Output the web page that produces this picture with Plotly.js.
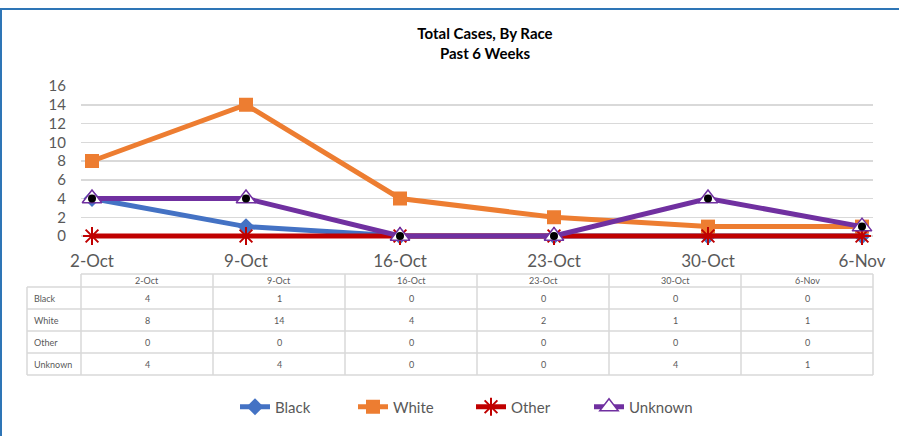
<!DOCTYPE html>
<html>
<head>
<meta charset="utf-8">
<script src="https://cdn.plot.ly/plotly-3.0.1.min.js"></script>
<style>html,body{margin:0;padding:0;background:#fff;}#chart{width:899px;height:436px;}</style>
</head>
<body>
<div id="chart"></div>
<script>
var categories = ["2-Oct", "9-Oct", "16-Oct", "23-Oct", "30-Oct", "6-Nov"];
var blackVals = [4, 1, 0, 0, 0, 0];
var whiteVals = [8, 14, 4, 2, 1, 1];
var otherVals = [0, 0, 0, 0, 0, 0];
var unknownVals = [4, 4, 0, 0, 4, 1];
var seriesNames = ["Black", "White", "Other", "Unknown"];
var yTicks = [0, 2, 4, 6, 8, 10, 12, 14, 16];

var W = 899, H = 436;
var L = 81, R = 873, T = 86, B = 241;   // plot area (B a little below the zero gridline at y=236)
var ZERO = 236;
var PW = R - L, PH = B - T;
var unitPx = (ZERO - T) / 16;
var yMin = -(B - ZERO) / unitPx;
function px(x) { return (x - L) / PW; }
function py(y) { return (B - y) / PH; }

var xIdx = categories.map(function (c, i) { return i; });
var fontFam = "Lato, 'Open Sans', sans-serif";
var grey = "#595959";

var traces = [
  {x: xIdx, y: blackVals, name: "Black", mode: "lines+markers", cliponaxis: false,
   line: {color: "#4472C4", width: 5},
   marker: {symbol: "diamond", size: 13, color: "#4472C4"}},
  {x: xIdx, y: whiteVals, name: "White", mode: "lines+markers", cliponaxis: false,
   line: {color: "#ED7D31", width: 5},
   marker: {symbol: "square", size: 14, color: "#ED7D31"}},
  {x: xIdx, y: otherVals, name: "Other", mode: "lines+markers", cliponaxis: false,
   line: {color: "#C00000", width: 5},
   marker: {symbol: "asterisk-open", size: 15, color: "#C00000", line: {color: "#FF0000", width: 2}}},
  {x: xIdx, y: unknownVals, name: "Unknown", mode: "lines+markers", cliponaxis: false,
   line: {color: "#7030A0", width: 5},
   marker: {symbol: "triangle-up", size: 17, color: "#FFFFFF", line: {color: "#7030A0", width: 1.5}}},
  {x: xIdx, y: unknownVals, name: "Unknown", mode: "markers", cliponaxis: false, showlegend: false,
   hoverinfo: "skip",
   marker: {symbol: "circle", size: 8, color: "#000000"}}
];

var shapes = [];
var annotations = [];
var lineCol = "#D9D9D9";

// blue chart-area border
shapes.push({type: "line", xref: "paper", yref: "paper", x0: px(0), x1: px(W + 20), y0: py(9), y1: py(9), line: {color: "#2E75B6", width: 2}});
shapes.push({type: "line", xref: "paper", yref: "paper", x0: px(1), x1: px(1), y0: py(9), y1: py(H + 20), line: {color: "#2E75B6", width: 2}});

// data table
var tblTop = 274, hdrBot = 287, rowH = 22, labL = 27;
var colW = PW / categories.length;
var rows = [blackVals, whiteVals, otherVals, unknownVals];
var tblBot = hdrBot + rowH * rows.length;
shapes.push({type: "line", xref: "paper", yref: "paper", x0: px(L), x1: px(R), y0: py(tblTop), y1: py(tblTop), line: {color: lineCol, width: 1.5}});
for (var r = 0; r <= rows.length; r++) {
  var yy = hdrBot + r * rowH;
  shapes.push({type: "line", xref: "paper", yref: "paper", x0: px(labL), x1: px(R), y0: py(yy), y1: py(yy), line: {color: lineCol, width: 1.5}});
}
shapes.push({type: "line", xref: "paper", yref: "paper", x0: px(labL), x1: px(labL), y0: py(hdrBot), y1: py(tblBot), line: {color: lineCol, width: 1.5}});
for (var c = 0; c <= categories.length; c++) {
  var xx = L + c * colW;
  shapes.push({type: "line", xref: "paper", yref: "paper", x0: px(xx), x1: px(xx), y0: py(tblTop), y1: py(tblBot), line: {color: lineCol, width: 1.5}});
}
var tblFont = {family: fontFam, size: 9, color: grey};
categories.forEach(function (cat, i) {
  annotations.push({xref: "paper", yref: "paper", x: px(L + (i + 0.5) * colW), y: py((tblTop + hdrBot) / 2),
    text: cat, showarrow: false, xanchor: "center", yanchor: "middle", font: tblFont});
});
rows.forEach(function (vals, r) {
  var yc = hdrBot + (r + 0.5) * rowH;
  annotations.push({xref: "paper", yref: "paper", x: px(labL + 5), y: py(yc), text: seriesNames[r],
    showarrow: false, xanchor: "left", yanchor: "middle", font: tblFont});
  vals.forEach(function (v, i) {
    annotations.push({xref: "paper", yref: "paper", x: px(L + (i + 0.5) * colW), y: py(yc), text: String(v),
      showarrow: false, xanchor: "center", yanchor: "middle", font: tblFont});
  });
});

var pad = 11 / 154;
var layout = {
  width: W, height: H,
  margin: {l: L, r: W - R, t: T, b: H - B, pad: 0},
  paper_bgcolor: "#FFFFFF", plot_bgcolor: "#FFFFFF",
  font: {family: fontFam, color: grey},
  title: {text: "<b>Total Cases, By Race<br>Past 6 Weeks</b>", x: 485 / W, xref: "container", xanchor: "center",
    y: 1 - 39 / H, yref: "container", yanchor: "top", font: {family: fontFam, size: 15, color: "#000000"}},
  xaxis: {range: [-pad, categories.length - 1 + pad], tickvals: xIdx, ticktext: categories,
    showgrid: false, zeroline: false, showline: false, ticks: "", fixedrange: true,
    tickfont: {family: fontFam, size: 17, color: grey}, ticklabelstandoff: 8},
  yaxis: {range: [yMin, 16], tickvals: yTicks, showgrid: true, gridcolor: "#D9D9D9", gridwidth: 1.5,
    zeroline: false, showline: false, ticks: "", fixedrange: true,
    tickfont: {family: fontFam, size: 15, color: grey}, ticklabelstandoff: 14},
  showlegend: true,
  legend: {orientation: "h", x: px(235), xanchor: "left", y: py(407), yanchor: "middle",
    entrywidth: 73, entrywidthmode: "pixels",
    font: {family: fontFam, size: 15, color: grey}, traceorder: "normal", bgcolor: "rgba(0,0,0,0)"},
  shapes: shapes,
  annotations: annotations
};

Plotly.newPlot("chart", traces, layout, {displayModeBar: false, staticPlot: true});
</script>
</body>
</html>
